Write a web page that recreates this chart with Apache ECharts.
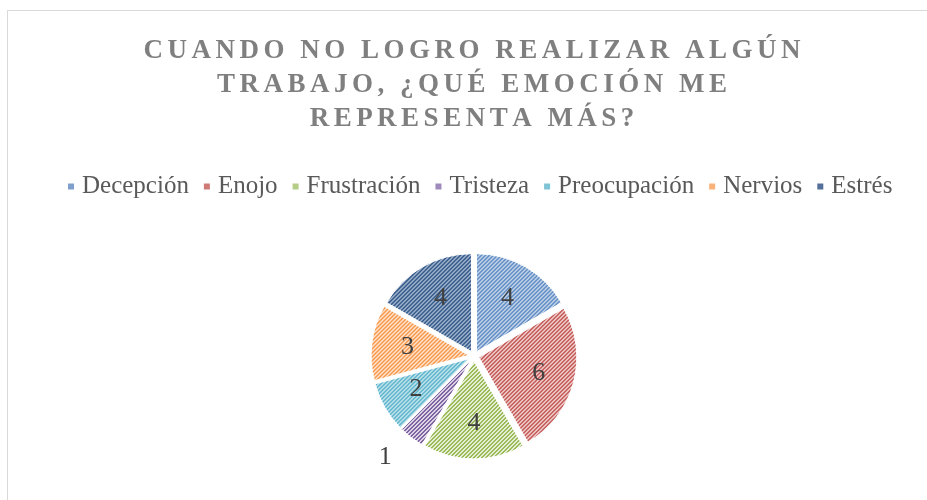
<!DOCTYPE html>
<html>
<head>
<meta charset="utf-8">
<script src="https://cdn.jsdelivr.net/npm/echarts@6/dist/echarts.min.js"></script>
<style>
  html, body { margin: 0; padding: 0; background: #ffffff; }
  .frame {
    position: absolute; left: 7px; top: 10px; width: 920px; height: 490px;
    border-top: 1px solid #d9d9d9; border-left: 1px solid #d9d9d9;
  }
  .chart-box { position: absolute; left: 0; top: 0; width: 927px; height: 500px; }
</style>
</head>
<body>
<div class="frame"></div>
<div id="chartBox" class="chart-box"></div>
<script>
// datos
var categories = ["Decepción", "Enojo", "Frustración", "Tristeza", "Preocupación", "Nervios", "Estrés"];
var values = [4, 6, 4, 1, 2, 3, 4];
var titleLines = ["CUANDO NO LOGRO REALIZAR ALGÚN", "TRABAJO, ¿QUÉ EMOCIÓN ME", "REPRESENTA MÁS?"];

// colores (trama oscura sobre fondo claro)
var stripeColors = ["#4f81bd", "#c0504d", "#9bbb59", "#8064a2", "#4bacc6", "#f79646", "#1f497d"];
var fillColors = ["#d3dff0", "#f2d6d5", "#e6efd6", "#dcd4e7", "#d2ebf2", "#fde5d1", "#b4c3d8"];
var legendColors = ["#7f9fcc", "#d07a78", "#b5cd86", "#9f8abb", "#7fc4d6", "#f9b27a", "#55709a"];

// espaciado de letras del título (six-per-em space)
function spaced(s) {
  return s.split("").join("\u2006");
}

var chartBox = echarts.init(document.getElementById("chartBox"));

var pieData = categories.map(function (name, i) {
  var item = {
    name: name,
    value: values[i],
    selected: true,
    itemStyle: {
      color: fillColors[i],
      // trama diagonal "/" en escalera, 4px de periodo
      decal: {
        symbol: "rect",
        symbolSize: 1,
        color: stripeColors[i],
        dashArrayX: [[0, 2, 2, 0], [0, 1, 2, 1], [2, 2], [1, 2, 1, 0]],
        dashArrayY: [1, 0],
        rotation: 0
      }
    }
  };
  if (i === 3) {
    // el 1 va fuera de la porción
    item.label = { show: true, position: "outside", align: "center" };
  }
  return item;
});

var labelData = categories.map(function (name, i) {
  return {
    name: name,
    value: values[i],
    label: { show: i !== 3 }
  };
});

var legendData = categories.map(function (name, i) {
  return { name: name, itemStyle: { color: legendColors[i], decal: "none" } };
});

var options = {
  backgroundColor: "transparent",
  animation: false,
  title: {
    text: titleLines.map(spaced).join("\n"),
    left: 472,
    top: 34,
    textAlign: "center",
    padding: 0,
    textStyle: {
      fontFamily: "Liberation Serif",
      fontWeight: "bold",
      fontSize: 27,
      lineHeight: 34,
      color: "#7f7f7f"
    }
  },
  legend: {
    top: 174,
    left: 66,
    padding: 0,
    icon: "rect",
    itemWidth: 8,
    itemHeight: 8,
    itemGap: 13,
    textStyle: {
      fontFamily: "Liberation Serif",
      fontSize: 25,
      color: "#595959",
      padding: [0, 0, 0, 2]
    },
    data: legendData
  },
  series: [
    {
      name: "emociones",
      type: "pie",
      center: [474, 356],
      radius: [0, 98],
      startAngle: 90,
      clockwise: true,
      selectedMode: "multiple",
      selectedOffset: 5,
      itemStyle: { borderColor: "#ffffff", borderWidth: 1 },
      label: {
        show: false,
        formatter: "{c}",
        fontFamily: "Liberation Serif",
        fontSize: 26,
        color: "#404040"
      },
      labelLine: { show: false, length: 24, length2: 0 },
      emphasis: { disabled: true },
      data: pieData
    },
    {
      name: "etiquetas",
      type: "pie",
      center: [474, 356],
      radius: [0, 128],
      startAngle: 90,
      clockwise: true,
      silent: true,
      itemStyle: { color: "transparent" },
      label: {
        position: "inside",
        formatter: "{c}",
        fontFamily: "Liberation Serif",
        fontSize: 26,
        color: "#404040"
      },
      labelLine: { show: false },
      emphasis: { disabled: true },
      data: labelData
    }
  ]
};

chartBox.setOption(options);
</script>
</body>
</html>
